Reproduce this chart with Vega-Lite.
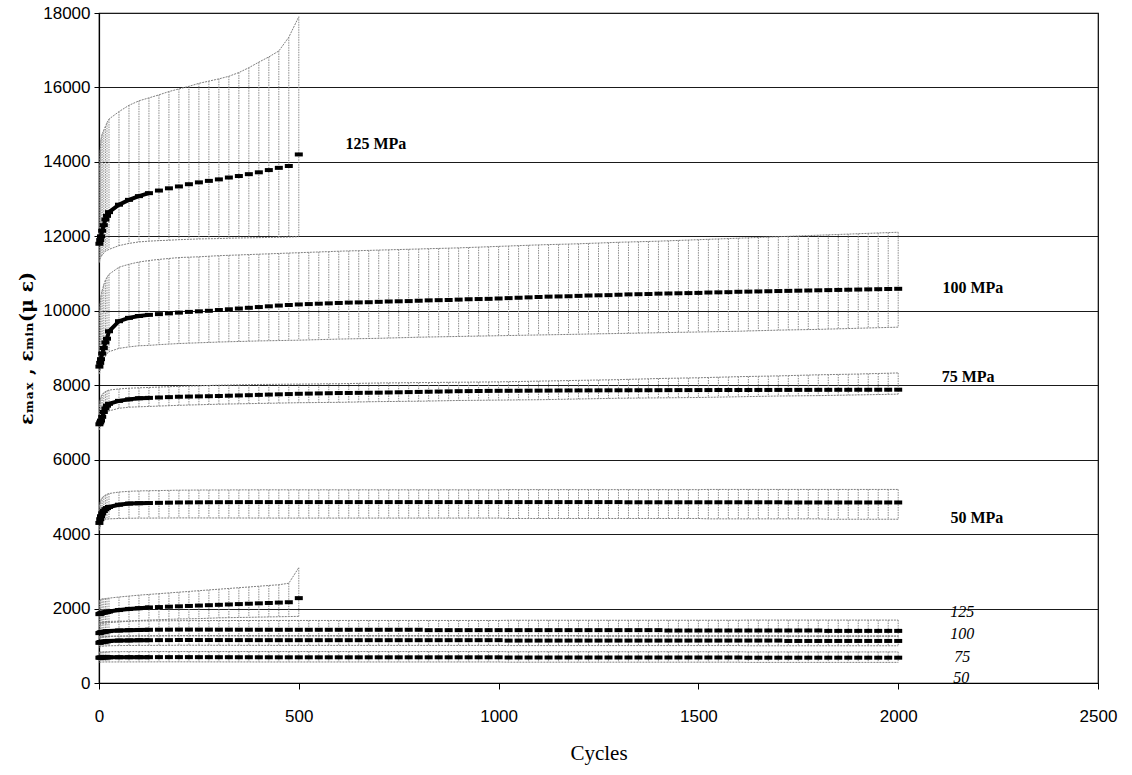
{
  "$schema": "https://vega.github.io/schema/vega-lite/v6.json",
  "width": 999,
  "height": 670,
  "autosize": {"type": "none"},
  "padding": {"left": 99, "top": 13, "right": 34, "bottom": 92},
  "background": "white",
  "config": {
    "view": {"stroke": "black", "strokeWidth": 1.2},
    "axis": {"labelFlush": false, "labelOverlap": false}
  },
  "datasets": {
    "strain": [
      {"c":1,"a":11800,"ah":13800,"al":11300,"b":8500,"bh":9900,"bl":8300,"d":6950,"dh":7450,"dl":6800,"e":4300,"eh":4750,"el":4100,"f":1850,"fh":2200,"fl":1550,"g":1340,"gh":1600,"gl":1200,"k":1080,"kh":1230,"kl":960,"n":680,"nh":830,"nl":560},
      {"c":3,"a":11900,"ah":14300,"al":11400,"b":8600,"bh":10200,"bl":8400,"d":7000,"dh":7600,"dl":6880,"e":4400,"eh":4850,"el":4200,"f":1860,"fh":2230,"fl":1570,"g":1350,"gh":1620,"gl":1210,"k":1090,"kh":1240,"kl":970,"n":682,"nh":832,"nl":560},
      {"c":5,"a":12000,"ah":14600,"al":11450,"b":8700,"bh":10400,"bl":8500,"d":7050,"dh":7680,"dl":6950,"e":4480,"eh":4920,"el":4270,"f":1870,"fh":2250,"fl":1580,"g":1360,"gh":1630,"gl":1220,"k":1100,"kh":1245,"kl":980,"n":684,"nh":835,"nl":562},
      {"c":8,"a":12150,"ah":14750,"al":11500,"b":8850,"bh":10550,"bl":8600,"d":7150,"dh":7750,"dl":7050,"e":4560,"eh":4980,"el":4330,"f":1880,"fh":2260,"fl":1590,"g":1370,"gh":1640,"gl":1230,"k":1105,"kh":1250,"kl":985,"n":686,"nh":836,"nl":563},
      {"c":12,"a":12300,"ah":14850,"al":11550,"b":9000,"bh":10700,"bl":8700,"d":7280,"dh":7800,"dl":7150,"e":4620,"eh":5020,"el":4370,"f":1890,"fh":2265,"fl":1600,"g":1375,"gh":1645,"gl":1240,"k":1110,"kh":1250,"kl":990,"n":688,"nh":838,"nl":564},
      {"c":16,"a":12450,"ah":14950,"al":11600,"b":9150,"bh":10820,"bl":8780,"d":7380,"dh":7830,"dl":7220,"e":4670,"eh":5050,"el":4390,"f":1900,"fh":2270,"fl":1605,"g":1380,"gh":1650,"gl":1245,"k":1115,"kh":1252,"kl":992,"n":689,"nh":839,"nl":565},
      {"c":20,"a":12550,"ah":15050,"al":11620,"b":9250,"bh":10900,"bl":8850,"d":7450,"dh":7850,"dl":7270,"e":4700,"eh":5070,"el":4400,"f":1910,"fh":2275,"fl":1610,"g":1390,"gh":1652,"gl":1250,"k":1120,"kh":1254,"kl":995,"n":690,"nh":840,"nl":565},
      {"c":25,"a":12650,"ah":15150,"al":11650,"b":9450,"bh":10980,"bl":8900,"d":7500,"dh":7870,"dl":7310,"e":4730,"eh":5090,"el":4410,"f":1920,"fh":2280,"fl":1620,"g":1395,"gh":1655,"gl":1255,"k":1130,"kh":1255,"kl":1000,"n":690,"nh":840,"nl":565},
      {"c":50,"a":12850,"ah":15350,"al":11750,"b":9720,"bh":11170,"bl":8990,"d":7580,"dh":7900,"dl":7380,"e":4790,"eh":5130,"el":4420,"f":1960,"fh":2310,"fl":1640,"g":1410,"gh":1660,"gl":1260,"k":1140,"kh":1258,"kl":1005,"n":692,"nh":842,"nl":566},
      {"c":75,"a":12980,"ah":15520,"al":11810,"b":9810,"bh":11250,"bl":9030,"d":7620,"dh":7920,"dl":7410,"e":4820,"eh":5150,"el":4425,"f":1990,"fh":2335,"fl":1660,"g":1420,"gh":1665,"gl":1265,"k":1145,"kh":1260,"kl":1008,"n":693,"nh":843,"nl":566},
      {"c":100,"a":13080,"ah":15640,"al":11850,"b":9860,"bh":11310,"bl":9060,"d":7650,"dh":7930,"dl":7420,"e":4830,"eh":5160,"el":4430,"f":2010,"fh":2360,"fl":1680,"g":1425,"gh":1668,"gl":1268,"k":1150,"kh":1262,"kl":1010,"n":694,"nh":844,"nl":567},
      {"c":125,"a":13160,"ah":15720,"al":11870,"b":9890,"bh":11350,"bl":9070,"d":7660,"dh":7940,"dl":7430,"e":4835,"eh":5165,"el":4430,"f":2030,"fh":2380,"fl":1690,"g":1430,"gh":1670,"gl":1270,"k":1150,"kh":1262,"kl":1010,"n":694,"nh":844,"nl":567},
      {"c":150,"a":13230,"ah":15800,"al":11885,"b":9910,"bh":11380,"bl":9090,"d":7670,"dh":7950,"dl":7440,"e":4840,"eh":5170,"el":4432,"f":2040,"fh":2400,"fl":1700,"g":1432,"gh":1672,"gl":1272,"k":1152,"kh":1263,"kl":1012,"n":695,"nh":845,"nl":568},
      {"c":175,"a":13290,"ah":15890,"al":11895,"b":9930,"bh":11405,"bl":9105,"d":7680,"dh":7960,"dl":7450,"e":4845,"eh":5175,"el":4433,"f":2050,"fh":2420,"fl":1710,"g":1433,"gh":1673,"gl":1273,"k":1152,"kh":1264,"kl":1012,"n":695,"nh":845,"nl":568},
      {"c":200,"a":13340,"ah":15960,"al":11910,"b":9950,"bh":11430,"bl":9120,"d":7690,"dh":7970,"dl":7460,"e":4850,"eh":5180,"el":4435,"f":2060,"fh":2440,"fl":1720,"g":1435,"gh":1675,"gl":1275,"k":1155,"kh":1265,"kl":1015,"n":695,"nh":845,"nl":568},
      {"c":225,"a":13400,"ah":16030,"al":11920,"b":9970,"bh":11440,"bl":9130,"d":7695,"dh":7978,"dl":7468,"e":4852,"eh":5182,"el":4435,"f":2070,"fh":2460,"fl":1725,"g":1435,"gh":1676,"gl":1275,"k":1155,"kh":1265,"kl":1015,"n":695,"nh":845,"nl":568},
      {"c":250,"a":13450,"ah":16110,"al":11930,"b":9985,"bh":11450,"bl":9140,"d":7700,"dh":7985,"dl":7475,"e":4854,"eh":5184,"el":4434,"f":2080,"fh":2480,"fl":1730,"g":1434,"gh":1677,"gl":1274,"k":1154,"kh":1265,"kl":1014,"n":694,"nh":845,"nl":567},
      {"c":275,"a":13490,"ah":16170,"al":11935,"b":10000,"bh":11465,"bl":9150,"d":7705,"dh":7993,"dl":7483,"e":4856,"eh":5185,"el":4434,"f":2090,"fh":2500,"fl":1740,"g":1434,"gh":1677,"gl":1274,"k":1154,"kh":1265,"kl":1014,"n":694,"nh":845,"nl":567},
      {"c":300,"a":13530,"ah":16230,"al":11940,"b":10020,"bh":11480,"bl":9160,"d":7710,"dh":8000,"dl":7490,"e":4857,"eh":5186,"el":4433,"f":2100,"fh":2520,"fl":1750,"g":1433,"gh":1678,"gl":1273,"k":1153,"kh":1265,"kl":1013,"n":693,"nh":845,"nl":567},
      {"c":325,"a":13580,"ah":16300,"al":11950,"b":10040,"bh":11490,"bl":9168,"d":7718,"dh":8005,"dl":7495,"e":4858,"eh":5187,"el":4433,"f":2110,"fh":2540,"fl":1755,"g":1433,"gh":1678,"gl":1273,"k":1153,"kh":1265,"kl":1013,"n":693,"nh":845,"nl":566},
      {"c":350,"a":13620,"ah":16400,"al":11955,"b":10060,"bh":11500,"bl":9175,"d":7725,"dh":8010,"dl":7500,"e":4859,"eh":5188,"el":4432,"f":2120,"fh":2560,"fl":1760,"g":1432,"gh":1679,"gl":1272,"k":1152,"kh":1265,"kl":1012,"n":692,"nh":845,"nl":566},
      {"c":375,"a":13670,"ah":16530,"al":11960,"b":10080,"bh":11510,"bl":9182,"d":7732,"dh":8015,"dl":7505,"e":4860,"eh":5189,"el":4432,"f":2130,"fh":2580,"fl":1765,"g":1432,"gh":1679,"gl":1272,"k":1152,"kh":1265,"kl":1012,"n":692,"nh":845,"nl":566},
      {"c":400,"a":13720,"ah":16680,"al":11965,"b":10100,"bh":11520,"bl":9190,"d":7740,"dh":8020,"dl":7510,"e":4860,"eh":5190,"el":4431,"f":2140,"fh":2600,"fl":1770,"g":1431,"gh":1680,"gl":1271,"k":1151,"kh":1265,"kl":1011,"n":691,"nh":845,"nl":565},
      {"c":425,"a":13780,"ah":16820,"al":11970,"b":10120,"bh":11530,"bl":9195,"d":7748,"dh":8022,"dl":7515,"e":4860,"eh":5190,"el":4431,"f":2150,"fh":2620,"fl":1775,"g":1431,"gh":1680,"gl":1271,"k":1151,"kh":1265,"kl":1011,"n":691,"nh":845,"nl":565},
      {"c":450,"a":13840,"ah":16980,"al":11975,"b":10140,"bh":11540,"bl":9200,"d":7755,"dh":8025,"dl":7520,"e":4860,"eh":5190,"el":4430,"f":2160,"fh":2640,"fl":1780,"g":1430,"gh":1680,"gl":1270,"k":1150,"kh":1265,"kl":1010,"n":690,"nh":845,"nl":565},
      {"c":475,"a":13890,"ah":17350,"al":11980,"b":10155,"bh":11550,"bl":9205,"d":7762,"dh":8028,"dl":7525,"e":4860,"eh":5190,"el":4430,"f":2170,"fh":2680,"fl":1785,"g":1430,"gh":1680,"gl":1270,"k":1150,"kh":1265,"kl":1010,"n":690,"nh":845,"nl":565},
      {"c":500,"a":14200,"ah":17900,"al":11990,"b":10170,"bh":11560,"bl":9210,"d":7770,"dh":8030,"dl":7530,"e":4860,"eh":5190,"el":4430,"f":2280,"fh":3100,"fl":1790,"g":1430,"gh":1680,"gl":1270,"k":1150,"kh":1265,"kl":1010,"n":690,"nh":845,"nl":565},
      {"c":525,"b":10180,"bh":11570,"bl":9218,"d":7775,"dh":8032,"dl":7532,"e":4860,"eh":5190,"el":4430,"g":1430,"gh":1680,"gl":1270,"k":1150,"kh":1265,"kl":1010,"n":690,"nh":845,"nl":565},
      {"c":550,"b":10190,"bh":11580,"bl":9225,"d":7780,"dh":8035,"dl":7535,"e":4860,"eh":5190,"el":4430,"g":1430,"gh":1680,"gl":1270,"k":1150,"kh":1265,"kl":1010,"n":690,"nh":845,"nl":565},
      {"c":575,"b":10200,"bh":11590,"bl":9232,"d":7785,"dh":8038,"dl":7538,"e":4860,"eh":5190,"el":4430,"g":1430,"gh":1680,"gl":1270,"k":1150,"kh":1265,"kl":1010,"n":690,"nh":845,"nl":565},
      {"c":600,"b":10210,"bh":11600,"bl":9240,"d":7790,"dh":8040,"dl":7540,"e":4860,"eh":5190,"el":4430,"g":1430,"gh":1680,"gl":1270,"k":1150,"kh":1265,"kl":1010,"n":690,"nh":845,"nl":565},
      {"c":625,"b":10220,"bh":11608,"bl":9245,"d":7792,"dh":8045,"dl":7545,"e":4860,"eh":5190,"el":4430,"g":1430,"gh":1680,"gl":1270,"k":1150,"kh":1265,"kl":1010,"n":690,"nh":845,"nl":565},
      {"c":650,"b":10225,"bh":11615,"bl":9250,"d":7795,"dh":8050,"dl":7550,"e":4860,"eh":5190,"el":4430,"g":1430,"gh":1680,"gl":1270,"k":1150,"kh":1265,"kl":1010,"n":690,"nh":845,"nl":565},
      {"c":675,"b":10230,"bh":11622,"bl":9255,"d":7798,"dh":8055,"dl":7555,"e":4860,"eh":5190,"el":4430,"g":1430,"gh":1680,"gl":1270,"k":1150,"kh":1265,"kl":1010,"n":690,"nh":845,"nl":565},
      {"c":700,"b":10240,"bh":11630,"bl":9260,"d":7800,"dh":8060,"dl":7560,"e":4860,"eh":5190,"el":4430,"g":1430,"gh":1680,"gl":1270,"k":1150,"kh":1265,"kl":1010,"n":690,"nh":845,"nl":565},
      {"c":725,"b":10250,"bh":11638,"bl":9268,"d":7805,"dh":8062,"dl":7562,"e":4860,"eh":5190,"el":4430,"g":1430,"gh":1680,"gl":1270,"k":1150,"kh":1265,"kl":1010,"n":690,"nh":845,"nl":565},
      {"c":750,"b":10255,"bh":11645,"bl":9275,"d":7810,"dh":8065,"dl":7565,"e":4860,"eh":5190,"el":4430,"g":1430,"gh":1680,"gl":1270,"k":1150,"kh":1265,"kl":1010,"n":690,"nh":845,"nl":565},
      {"c":775,"b":10260,"bh":11652,"bl":9282,"d":7815,"dh":8068,"dl":7568,"e":4860,"eh":5190,"el":4430,"g":1430,"gh":1680,"gl":1270,"k":1150,"kh":1265,"kl":1010,"n":690,"nh":845,"nl":565},
      {"c":800,"b":10270,"bh":11660,"bl":9290,"d":7820,"dh":8070,"dl":7570,"e":4860,"eh":5190,"el":4430,"g":1430,"gh":1680,"gl":1270,"k":1150,"kh":1265,"kl":1010,"n":690,"nh":845,"nl":565},
      {"c":825,"b":10280,"bh":11668,"bl":9295,"d":7825,"dh":8072,"dl":7575,"e":4860,"eh":5190,"el":4430,"g":1420,"gh":1680,"gl":1270,"k":1150,"kh":1265,"kl":1010,"n":690,"nh":845,"nl":565},
      {"c":850,"b":10285,"bh":11675,"bl":9300,"d":7830,"dh":8075,"dl":7580,"e":4860,"eh":5190,"el":4430,"g":1420,"gh":1680,"gl":1270,"k":1150,"kh":1265,"kl":1010,"n":690,"nh":845,"nl":565},
      {"c":875,"b":10290,"bh":11682,"bl":9305,"d":7835,"dh":8078,"dl":7585,"e":4860,"eh":5190,"el":4430,"g":1420,"gh":1680,"gl":1270,"k":1150,"kh":1265,"kl":1010,"n":690,"nh":845,"nl":565},
      {"c":900,"b":10300,"bh":11690,"bl":9310,"d":7840,"dh":8080,"dl":7590,"e":4860,"eh":5190,"el":4430,"g":1420,"gh":1680,"gl":1270,"k":1150,"kh":1265,"kl":1010,"n":690,"nh":845,"nl":565},
      {"c":925,"b":10310,"bh":11700,"bl":9315,"d":7842,"dh":8082,"dl":7592,"e":4860,"eh":5190,"el":4430,"g":1420,"gh":1680,"gl":1270,"k":1150,"kh":1265,"kl":1010,"n":690,"nh":845,"nl":565},
      {"c":950,"b":10315,"bh":11710,"bl":9320,"d":7845,"dh":8085,"dl":7595,"e":4860,"eh":5190,"el":4430,"g":1420,"gh":1680,"gl":1270,"k":1150,"kh":1265,"kl":1010,"n":690,"nh":845,"nl":565},
      {"c":975,"b":10320,"bh":11720,"bl":9325,"d":7848,"dh":8088,"dl":7598,"e":4860,"eh":5190,"el":4430,"g":1420,"gh":1680,"gl":1270,"k":1150,"kh":1265,"kl":1010,"n":690,"nh":845,"nl":565},
      {"c":1000,"b":10330,"bh":11730,"bl":9330,"d":7850,"dh":8090,"dl":7600,"e":4860,"eh":5190,"el":4430,"g":1420,"gh":1680,"gl":1270,"k":1150,"kh":1265,"kl":1010,"n":690,"nh":845,"nl":565},
      {"c":1025,"b":10340,"bh":11740,"bl":9335,"d":7851,"dh":8095,"dl":7602,"e":4860,"eh":5195,"el":4420,"g":1420,"gh":1685,"gl":1270,"k":1140,"kh":1265,"kl":1005,"n":685,"nh":840,"nl":560},
      {"c":1050,"b":10350,"bh":11750,"bl":9340,"d":7852,"dh":8100,"dl":7605,"e":4860,"eh":5195,"el":4420,"g":1420,"gh":1685,"gl":1270,"k":1140,"kh":1265,"kl":1005,"n":685,"nh":840,"nl":560},
      {"c":1075,"b":10360,"bh":11760,"bl":9345,"d":7854,"dh":8105,"dl":7608,"e":4860,"eh":5195,"el":4420,"g":1420,"gh":1685,"gl":1270,"k":1140,"kh":1265,"kl":1005,"n":685,"nh":840,"nl":560},
      {"c":1100,"b":10370,"bh":11770,"bl":9350,"d":7855,"dh":8110,"dl":7610,"e":4860,"eh":5195,"el":4420,"g":1420,"gh":1685,"gl":1270,"k":1140,"kh":1265,"kl":1005,"n":685,"nh":840,"nl":560},
      {"c":1125,"b":10380,"bh":11778,"bl":9355,"d":7856,"dh":8115,"dl":7615,"e":4860,"eh":5195,"el":4420,"g":1420,"gh":1685,"gl":1270,"k":1140,"kh":1265,"kl":1005,"n":685,"nh":840,"nl":560},
      {"c":1150,"b":10385,"bh":11785,"bl":9360,"d":7858,"dh":8120,"dl":7620,"e":4860,"eh":5195,"el":4420,"g":1420,"gh":1685,"gl":1270,"k":1140,"kh":1265,"kl":1005,"n":685,"nh":840,"nl":560},
      {"c":1175,"b":10390,"bh":11792,"bl":9365,"d":7859,"dh":8125,"dl":7625,"e":4860,"eh":5195,"el":4420,"g":1420,"gh":1685,"gl":1270,"k":1140,"kh":1265,"kl":1005,"n":685,"nh":840,"nl":560},
      {"c":1200,"b":10400,"bh":11800,"bl":9370,"d":7860,"dh":8130,"dl":7630,"e":4860,"eh":5195,"el":4420,"g":1420,"gh":1685,"gl":1270,"k":1140,"kh":1265,"kl":1005,"n":685,"nh":840,"nl":560},
      {"c":1225,"b":10410,"bh":11810,"bl":9375,"d":7861,"dh":8135,"dl":7635,"e":4860,"eh":5195,"el":4420,"g":1420,"gh":1685,"gl":1265,"k":1140,"kh":1260,"kl":1005,"n":685,"nh":840,"nl":560},
      {"c":1250,"b":10415,"bh":11820,"bl":9380,"d":7862,"dh":8140,"dl":7640,"e":4860,"eh":5195,"el":4420,"g":1420,"gh":1685,"gl":1265,"k":1140,"kh":1260,"kl":1005,"n":685,"nh":840,"nl":560},
      {"c":1275,"b":10420,"bh":11830,"bl":9385,"d":7863,"dh":8145,"dl":7645,"e":4860,"eh":5195,"el":4420,"g":1420,"gh":1685,"gl":1265,"k":1140,"kh":1260,"kl":1005,"n":685,"nh":840,"nl":560},
      {"c":1300,"b":10430,"bh":11840,"bl":9390,"d":7864,"dh":8150,"dl":7650,"e":4860,"eh":5195,"el":4420,"g":1420,"gh":1685,"gl":1265,"k":1140,"kh":1260,"kl":1005,"n":685,"nh":840,"nl":560},
      {"c":1325,"b":10440,"bh":11848,"bl":9395,"d":7865,"dh":8158,"dl":7652,"e":4855,"eh":5195,"el":4420,"g":1420,"gh":1685,"gl":1265,"k":1140,"kh":1260,"kl":1005,"n":685,"nh":840,"nl":560},
      {"c":1350,"b":10445,"bh":11855,"bl":9400,"d":7866,"dh":8165,"dl":7655,"e":4855,"eh":5195,"el":4420,"g":1420,"gh":1685,"gl":1265,"k":1140,"kh":1260,"kl":1005,"n":685,"nh":840,"nl":560},
      {"c":1375,"b":10450,"bh":11862,"bl":9405,"d":7866,"dh":8172,"dl":7658,"e":4855,"eh":5195,"el":4420,"g":1420,"gh":1685,"gl":1265,"k":1140,"kh":1260,"kl":1005,"n":685,"nh":840,"nl":560},
      {"c":1400,"b":10460,"bh":11870,"bl":9410,"d":7867,"dh":8180,"dl":7660,"e":4855,"eh":5195,"el":4420,"g":1420,"gh":1685,"gl":1265,"k":1140,"kh":1260,"kl":1005,"n":685,"nh":840,"nl":560},
      {"c":1425,"b":10465,"bh":11880,"bl":9415,"d":7868,"dh":8185,"dl":7662,"e":4855,"eh":5195,"el":4420,"g":1410,"gh":1685,"gl":1265,"k":1140,"kh":1260,"kl":1005,"n":685,"nh":840,"nl":560},
      {"c":1450,"b":10470,"bh":11890,"bl":9420,"d":7869,"dh":8190,"dl":7665,"e":4855,"eh":5195,"el":4420,"g":1410,"gh":1685,"gl":1265,"k":1140,"kh":1260,"kl":1005,"n":685,"nh":840,"nl":560},
      {"c":1475,"b":10475,"bh":11900,"bl":9425,"d":7869,"dh":8195,"dl":7668,"e":4855,"eh":5195,"el":4420,"g":1410,"gh":1685,"gl":1265,"k":1140,"kh":1260,"kl":1005,"n":685,"nh":840,"nl":560},
      {"c":1500,"b":10480,"bh":11910,"bl":9430,"d":7870,"dh":8200,"dl":7670,"e":4855,"eh":5195,"el":4420,"g":1410,"gh":1685,"gl":1265,"k":1140,"kh":1260,"kl":1005,"n":685,"nh":840,"nl":560},
      {"c":1525,"b":10490,"bh":11920,"bl":9435,"d":7870,"dh":8208,"dl":7675,"e":4855,"eh":5200,"el":4410,"g":1410,"gh":1685,"gl":1265,"k":1140,"kh":1260,"kl":1005,"n":685,"nh":840,"nl":560},
      {"c":1550,"b":10495,"bh":11930,"bl":9440,"d":7871,"dh":8215,"dl":7680,"e":4855,"eh":5200,"el":4410,"g":1410,"gh":1685,"gl":1265,"k":1140,"kh":1260,"kl":1005,"n":685,"nh":840,"nl":560},
      {"c":1575,"b":10500,"bh":11940,"bl":9445,"d":7871,"dh":8222,"dl":7685,"e":4855,"eh":5200,"el":4410,"g":1410,"gh":1685,"gl":1265,"k":1140,"kh":1260,"kl":1005,"n":685,"nh":840,"nl":560},
      {"c":1600,"b":10510,"bh":11950,"bl":9450,"d":7872,"dh":8230,"dl":7690,"e":4855,"eh":5200,"el":4410,"g":1410,"gh":1685,"gl":1265,"k":1140,"kh":1260,"kl":1005,"n":685,"nh":840,"nl":560},
      {"c":1625,"b":10515,"bh":11960,"bl":9458,"d":7872,"dh":8235,"dl":7695,"e":4855,"eh":5200,"el":4410,"g":1410,"gh":1690,"gl":1265,"k":1140,"kh":1260,"kl":1000,"n":680,"nh":835,"nl":555},
      {"c":1650,"b":10520,"bh":11970,"bl":9465,"d":7873,"dh":8240,"dl":7700,"e":4855,"eh":5200,"el":4410,"g":1410,"gh":1690,"gl":1265,"k":1140,"kh":1260,"kl":1000,"n":680,"nh":835,"nl":555},
      {"c":1675,"b":10525,"bh":11980,"bl":9472,"d":7873,"dh":8245,"dl":7705,"e":4855,"eh":5200,"el":4410,"g":1410,"gh":1690,"gl":1265,"k":1140,"kh":1260,"kl":1000,"n":680,"nh":835,"nl":555},
      {"c":1700,"b":10530,"bh":11990,"bl":9480,"d":7874,"dh":8250,"dl":7710,"e":4855,"eh":5200,"el":4410,"g":1410,"gh":1690,"gl":1265,"k":1140,"kh":1260,"kl":1000,"n":680,"nh":835,"nl":555},
      {"c":1725,"b":10535,"bh":12000,"bl":9485,"d":7874,"dh":8258,"dl":7712,"e":4850,"eh":5200,"el":4410,"g":1410,"gh":1690,"gl":1260,"k":1130,"kh":1260,"kl":1000,"n":680,"nh":835,"nl":555},
      {"c":1750,"b":10540,"bh":12010,"bl":9490,"d":7875,"dh":8265,"dl":7715,"e":4850,"eh":5200,"el":4410,"g":1410,"gh":1690,"gl":1260,"k":1130,"kh":1260,"kl":1000,"n":680,"nh":835,"nl":555},
      {"c":1775,"b":10545,"bh":12020,"bl":9495,"d":7875,"dh":8272,"dl":7718,"e":4850,"eh":5200,"el":4410,"g":1410,"gh":1690,"gl":1260,"k":1130,"kh":1260,"kl":1000,"n":680,"nh":835,"nl":555},
      {"c":1800,"b":10550,"bh":12030,"bl":9500,"d":7876,"dh":8280,"dl":7720,"e":4850,"eh":5200,"el":4410,"g":1410,"gh":1690,"gl":1260,"k":1130,"kh":1260,"kl":1000,"n":680,"nh":835,"nl":555},
      {"c":1825,"b":10555,"bh":12040,"bl":9508,"d":7876,"dh":8285,"dl":7725,"e":4850,"eh":5200,"el":4400,"g":1400,"gh":1690,"gl":1260,"k":1130,"kh":1260,"kl":1000,"n":680,"nh":835,"nl":555},
      {"c":1850,"b":10560,"bh":12050,"bl":9515,"d":7877,"dh":8290,"dl":7730,"e":4850,"eh":5200,"el":4400,"g":1400,"gh":1690,"gl":1260,"k":1130,"kh":1260,"kl":1000,"n":680,"nh":835,"nl":555},
      {"c":1875,"b":10565,"bh":12060,"bl":9522,"d":7877,"dh":8295,"dl":7735,"e":4850,"eh":5200,"el":4400,"g":1400,"gh":1690,"gl":1260,"k":1130,"kh":1260,"kl":1000,"n":680,"nh":835,"nl":555},
      {"c":1900,"b":10570,"bh":12070,"bl":9530,"d":7878,"dh":8300,"dl":7740,"e":4850,"eh":5200,"el":4400,"g":1400,"gh":1690,"gl":1260,"k":1130,"kh":1260,"kl":1000,"n":680,"nh":835,"nl":555},
      {"c":1925,"b":10575,"bh":12080,"bl":9538,"d":7878,"dh":8308,"dl":7745,"e":4850,"eh":5200,"el":4400,"g":1400,"gh":1690,"gl":1260,"k":1130,"kh":1260,"kl":1000,"n":680,"nh":835,"nl":555},
      {"c":1950,"b":10580,"bh":12090,"bl":9545,"d":7879,"dh":8315,"dl":7750,"e":4850,"eh":5200,"el":4400,"g":1400,"gh":1690,"gl":1260,"k":1130,"kh":1260,"kl":1000,"n":680,"nh":835,"nl":555},
      {"c":1975,"b":10585,"bh":12100,"bl":9552,"d":7879,"dh":8322,"dl":7755,"e":4850,"eh":5200,"el":4400,"g":1400,"gh":1690,"gl":1260,"k":1130,"kh":1260,"kl":1000,"n":680,"nh":835,"nl":555},
      {"c":2000,"b":10590,"bh":12110,"bl":9560,"d":7880,"dh":8330,"dl":7760,"e":4850,"eh":5200,"el":4400,"g":1400,"gh":1690,"gl":1260,"k":1130,"kh":1260,"kl":1000,"n":680,"nh":835,"nl":555}
    ],
    "notes": [
      {"c":693,"v":14480,"label":"125 MPa","kind":"max"},
      {"c":2187,"v":10610,"label":"100 MPa","kind":"max"},
      {"c":2175,"v":8220,"label":"75 MPa","kind":"max"},
      {"c":2197,"v":4430,"label":"50 MPa","kind":"max"},
      {"c":2160,"v":1910,"label":"125","kind":"min"},
      {"c":2160,"v":1320,"label":"100","kind":"min"},
      {"c":2160,"v":700,"label":"75","kind":"min"},
      {"c":2158,"v":135,"label":"50","kind":"min"}
    ]
  },
  "data": {"name": "strain"},
  "encoding": {
    "x": {
      "field": "c",
      "type": "quantitative",
      "scale": {"domain": [0, 2500], "nice": false},
      "axis": {
        "values": [0, 500, 1000, 1500, 2000, 2500],
        "format": "d",
        "title": "Cycles",
        "grid": false,
        "labelFont": "Liberation Sans",
        "labelFontSize": 17,
        "labelColor": "black",
        "labelPadding": 19,
        "tickColor": "black",
        "tickSize": 6,
        "domainColor": "black",
        "domainWidth": 1.2,
        "titleFont": "Liberation Serif",
        "titleFontSize": 21,
        "titleFontWeight": "normal",
        "titleColor": "black",
        "titlePadding": 18
      }
    }
  },
  "layer": [
    {
      "mark": {"type": "rule", "stroke": "#8c8c8c", "strokeWidth": 1, "strokeDash": [1.5, 1]},
      "encoding": {
        "y": {
          "field": "ah",
          "type": "quantitative",
          "scale": {"domain": [0, 18000], "nice": false},
          "title": "εₘₐₓ , εₘᵢₙ(μ ε)",
          "axis": {
            "values": [0, 2000, 4000, 6000, 8000, 10000, 12000, 14000, 16000, 18000],
            "format": "d",
            "grid": true,
            "gridColor": "#1a1a1a",
            "gridWidth": 1.2,
            "labelFont": "Liberation Sans",
            "labelFontSize": 17,
            "labelColor": "black",
            "labelPadding": 4,
            "tickColor": "black",
            "tickSize": 5,
            "domainColor": "black",
            "domainWidth": 1.2,
            "titleFont": "DejaVu Serif",
            "titleFontSize": 19,
            "titleFontWeight": "bold",
            "titleColor": "black",
            "titlePadding": 6
          }
        },
        "y2": {"field": "al"}
      }
    },
    {
      "mark": {"type": "rule", "stroke": "#8c8c8c", "strokeWidth": 1, "strokeDash": [1.5, 1]},
      "encoding": {"y": {"field": "bh", "type": "quantitative", "title": "εₘₐₓ , εₘᵢₙ(μ ε)"}, "y2": {"field": "bl"}}
    },
    {
      "mark": {"type": "rule", "stroke": "#8c8c8c", "strokeWidth": 1, "strokeDash": [1.5, 1]},
      "encoding": {"y": {"field": "dh", "type": "quantitative", "title": "εₘₐₓ , εₘᵢₙ(μ ε)"}, "y2": {"field": "dl"}}
    },
    {
      "mark": {"type": "rule", "stroke": "#8c8c8c", "strokeWidth": 1, "strokeDash": [1.5, 1]},
      "encoding": {"y": {"field": "eh", "type": "quantitative", "title": "εₘₐₓ , εₘᵢₙ(μ ε)"}, "y2": {"field": "el"}}
    },
    {
      "mark": {"type": "rule", "stroke": "#8c8c8c", "strokeWidth": 1, "strokeDash": [1.5, 1]},
      "encoding": {"y": {"field": "fh", "type": "quantitative", "title": "εₘₐₓ , εₘᵢₙ(μ ε)"}, "y2": {"field": "fl"}}
    },
    {
      "mark": {"type": "rule", "stroke": "#8c8c8c", "strokeWidth": 1, "strokeDash": [1.5, 1]},
      "encoding": {"y": {"field": "gh", "type": "quantitative", "title": "εₘₐₓ , εₘᵢₙ(μ ε)"}, "y2": {"field": "gl"}}
    },
    {
      "mark": {"type": "rule", "stroke": "#8c8c8c", "strokeWidth": 1, "strokeDash": [1.5, 1]},
      "encoding": {"y": {"field": "kh", "type": "quantitative", "title": "εₘₐₓ , εₘᵢₙ(μ ε)"}, "y2": {"field": "kl"}}
    },
    {
      "mark": {"type": "rule", "stroke": "#8c8c8c", "strokeWidth": 1, "strokeDash": [1.5, 1]},
      "encoding": {"y": {"field": "nh", "type": "quantitative", "title": "εₘₐₓ , εₘᵢₙ(μ ε)"}, "y2": {"field": "nl"}}
    },
    {
      "transform": [{"fold": ["ah", "al", "bh", "bl", "dh", "dl", "eh", "el", "fh", "fl", "gh", "gl", "kh", "kl", "nh", "nl"], "as": ["edge", "v"]}],
      "mark": {"type": "line", "stroke": "#808080", "strokeWidth": 1, "strokeDash": [2, 1]},
      "encoding": {
        "y": {"field": "v", "type": "quantitative", "title": "εₘₐₓ , εₘᵢₙ(μ ε)"},
        "detail": {"field": "edge"}
      }
    },
    {
      "transform": [
        {"filter": "datum.c <= 125"},
        {"fold": ["a", "b", "d", "e", "f", "g", "k", "n"], "as": ["series", "v"]}
      ],
      "mark": {"type": "line", "stroke": "black", "strokeWidth": 4},
      "encoding": {
        "y": {"field": "v", "type": "quantitative", "title": "εₘₐₓ , εₘᵢₙ(μ ε)"},
        "detail": {"field": "series"}
      }
    },
    {
      "transform": [{"fold": ["a", "b", "d", "e", "f", "g", "k", "n"], "as": ["series", "v"]}],
      "mark": {"type": "point", "shape": "M-1,-0.5L1,-0.5L1,0.5L-1,0.5Z", "filled": true, "color": "black", "opacity": 1, "size": 64},
      "encoding": {
        "y": {"field": "v", "type": "quantitative", "title": "εₘₐₓ , εₘᵢₙ(μ ε)"},
        "detail": {"field": "series"}
      }
    },
    {
      "data": {"name": "notes"},
      "transform": [{"filter": "datum.kind == 'max'"}],
      "mark": {"type": "text", "font": "Liberation Serif", "fontWeight": "bold", "fontSize": 16, "align": "center", "baseline": "middle", "color": "black"},
      "encoding": {
        "y": {"field": "v", "type": "quantitative", "title": "εₘₐₓ , εₘᵢₙ(μ ε)"},
        "text": {"field": "label"}
      }
    },
    {
      "data": {"name": "notes"},
      "transform": [{"filter": "datum.kind == 'min'"}],
      "mark": {"type": "text", "font": "Liberation Serif", "fontStyle": "italic", "fontSize": 16, "align": "center", "baseline": "middle", "color": "black"},
      "encoding": {
        "y": {"field": "v", "type": "quantitative", "title": "εₘₐₓ , εₘᵢₙ(μ ε)"},
        "text": {"field": "label"}
      }
    }
  ]
}
